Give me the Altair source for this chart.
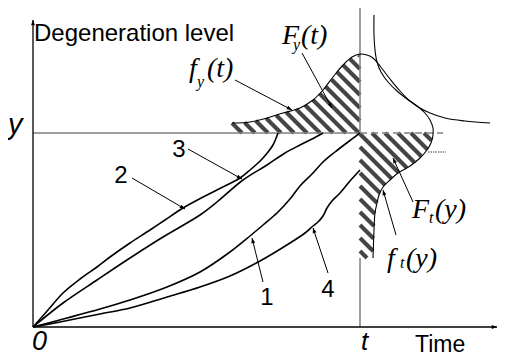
import numpy as np
import pandas as pd
import altair as alt

# Diagram units: time to the right of the origin, degeneration level above it
T_MARK = 327      # the time t
Y_MARK = 194      # the level y

curve1_time = [0, 34, 67, 97, 134, 167, 197, 217, 230, 244, 257, 267, 279, 290, 302, 315, 327]
curve1_level = [0, 9, 18, 27, 40, 55, 75, 91, 102, 114, 128, 141, 153, 165, 175, 185, 194]
curve2_time = [0, 15, 30, 47, 64, 77, 97, 117, 132, 150, 172, 192, 207, 217, 225, 230, 235, 240, 245]
curve2_level = [0, 17, 34, 48, 60, 70, 84, 97, 107, 119, 131, 141, 149, 157, 164, 169, 175, 182, 194]
curve3_time = [0, 30, 64, 97, 130, 167, 184, 210, 234, 252, 267, 279, 290]
curve3_level = [0, 24, 47, 69, 90, 112, 125, 147, 162, 174, 182, 188, 194]
curve4_time = [0, 27, 67, 97, 134, 167, 197, 227, 257, 272, 280, 285, 290, 294, 299, 307, 317, 327]
curve4_level = [0, 5, 13, 19, 30, 40, 51, 66, 84, 94, 101, 105, 111, 119, 126, 134, 146, 157]

# density of failure time at level y
fy_time = [199, 217, 234, 250, 267, 280, 290, 300, 310, 319, 327, 334, 340, 347, 357, 367, 377, 387, 397, 412, 432, 457]
fy_level = [204, 205, 209, 214, 219, 227, 237, 250, 262, 270, 273, 272, 269, 261, 248, 236, 226, 219, 214, 209, 206, 204]
# density of level at time t
ft_time = [341, 341, 342, 344, 348, 355, 364, 374, 384, 392, 397, 400, 400, 398, 394, 387, 377, 365, 357, 350, 346, 344, 342, 341, 340]
ft_level = [312, 292, 277, 265, 255, 245, 236, 228, 221, 214, 207, 199, 192, 184, 177, 169, 161, 154, 147, 140, 132, 124, 114, 97, 69]

# pointer arrows: f_y(t), F_y(t), 3, 2, 1, 4, F_t(y), f_t(y)
ptr_start_time = [202, 269, 155, 99, 230, 295, 380, 363]
ptr_start_level = [247, 274, 178, 149, 45, 54, 125, 92]
ptr_end_time = [259, 299, 209, 152, 219, 280, 360, 350]
ptr_end_level = [217, 219, 148, 118, 89, 99, 169, 137]

curve_labels = ["1", "2", "3", "4"]
curve_label_time = [234, 88, 146, 295]
curve_label_level = [22, 144, 170, 30]

HATCH_C0 = 403
HATCH_STEP = 13

X_DOM = [-25, 465]
Y_DOM = [-29, 319]

xs_ = alt.Scale(domain=X_DOM, nice=False, zero=False)
ys_ = alt.Scale(domain=Y_DOM, nice=False, zero=False)


def X(f="x"):
    return alt.X(f"{f}:Q", scale=xs_, axis=None)


def Y(f="y"):
    return alt.Y(f"{f}:Q", scale=ys_, axis=None)


# ---- hatch segments derived from the density curves ----
ft_lv_sorted = np.array(ft_level[::-1], dtype=float)
ft_t_sorted = np.array(ft_time[::-1], dtype=float)


def inside_upper(xs, ys):
    top = np.interp(xs, fy_time, fy_level)
    return (xs >= fy_time[0]) & (xs <= T_MARK) & (ys >= Y_MARK) & (ys <= top)


def inside_right(xs, ys):
    right = np.interp(ys, ft_lv_sorted, ft_t_sorted)
    return (ys >= ft_level[-1]) & (ys <= Y_MARK) & (xs >= T_MARK) & (xs <= right)


def hatch(inside_fn, xlo, xhi):
    rows = []
    xs = np.arange(xlo, xhi + 0.001, 0.25)
    for c in np.arange(HATCH_C0 - HATCH_STEP * 30, HATCH_C0 + HATCH_STEP * 30, HATCH_STEP):
        ys = c - xs
        ins = inside_fn(xs, ys)
        if not ins.any():
            continue
        idx = np.flatnonzero(ins)
        br = np.flatnonzero(np.diff(idx) > 1)
        starts = np.r_[idx[0], idx[br + 1]]
        ends = np.r_[idx[br], idx[-1]]
        for s, e in zip(starts, ends):
            if e > s:
                rows.append(dict(x=xs[s], y=ys[s], x2=xs[e], y2=ys[e]))
    return rows


hatch_df = pd.DataFrame(hatch(inside_upper, fy_time[0], T_MARK) +
                        hatch(inside_right, T_MARK, max(ft_time)))

hatch_layer = alt.Chart(hatch_df).mark_rule(color="#454545", strokeWidth=4, strokeCap="butt").encode(
    x=X(), y=Y(), x2="x2:Q", y2="y2:Q")

# ---- guide lines ----
gray_df = pd.DataFrame([
    dict(x=0, y=Y_MARK, x2=T_MARK, y2=Y_MARK),
    dict(x=T_MARK, y=Y_DOM[1], x2=T_MARK, y2=Y_MARK),
    dict(x=T_MARK, y=ft_level[-1], x2=T_MARK, y2=0),
])
gray_layer = alt.Chart(gray_df).mark_rule(color="#808080", strokeWidth=1.5).encode(
    x=X(), y=Y(), x2="x2:Q", y2="y2:Q")

dash_df = pd.DataFrame([dict(x=T_MARK, y=Y_MARK, x2=410, y2=Y_MARK)])
dash_layer = alt.Chart(dash_df).mark_rule(color="#808080", strokeWidth=1.5, strokeDash=[7, 4]).encode(
    x=X(), y=Y(), x2="x2:Q", y2="y2:Q")
dot_df = pd.DataFrame([dict(x=395, y=175, x2=413, y2=175)])
dot_layer = alt.Chart(dot_df).mark_rule(color="#808080", strokeWidth=1.5, strokeDash=[1.5, 1]).encode(
    x=X(), y=Y(), x2="x2:Q", y2="y2:Q")

# ---- curves ----
rows = []
for name, tt, ll in [("1", curve1_time, curve1_level), ("2", curve2_time, curve2_level),
                     ("3", curve3_time, curve3_level), ("4", curve4_time, curve4_level)]:
    for i, (a, b) in enumerate(zip(tt, ll)):
        rows.append(dict(curve=name, i=i, x=a, y=b))
curves_df = pd.DataFrame(rows)
curves_layer = alt.Chart(curves_df).mark_line(color="black", strokeWidth=1.6, interpolate="catmull-rom").encode(
    x=X(), y=Y(), detail="curve:N", order="i:Q")

rows = []
for name, tt, ll in [("fy", fy_time, fy_level), ("ft", ft_time, ft_level)]:
    for i, (a, b) in enumerate(zip(tt, ll)):
        rows.append(dict(curve=name, i=i, x=a, y=b))
dens_df = pd.DataFrame(rows)
dens_layer = alt.Chart(dens_df).mark_line(color="black", strokeWidth=1.1, interpolate="catmull-rom").encode(
    x=X(), y=Y(), detail="curve:N", order="i:Q")

# ---- axes ----
axis_df = pd.DataFrame([
    dict(x=0, y=0, x2=0, y2=307),
    dict(x=0, y=0, x2=464, y2=0),
])
axis_layer = alt.Chart(axis_df).mark_rule(color="black", strokeWidth=1.3).encode(
    x=X(), y=Y(), x2="x2:Q", y2="y2:Q")

# ---- pointers ----
ptr_df = pd.DataFrame(dict(x=ptr_start_time, y=ptr_start_level, x2=ptr_end_time, y2=ptr_end_level))
ptr_layer = alt.Chart(ptr_df).mark_rule(color="black", strokeWidth=1).encode(
    x=X(), y=Y(), x2="x2:Q", y2="y2:Q")

heads = []
for a, b, c, d in zip(ptr_start_time, ptr_start_level, ptr_end_time, ptr_end_level):
    heads.append(dict(x=c, y=d, ang=float(np.degrees(np.arctan2(c - a, d - b)) % 360), s=110))
for r in axis_df.itertuples():
    heads.append(dict(x=r.x2, y=r.y2, ang=float(np.degrees(np.arctan2(r.x2 - r.x, r.y2 - r.y)) % 360), s=110))
heads_df = pd.DataFrame(heads)
ARROW = "M0,0 L-0.38,1 L0.38,1 Z"
heads_layer = alt.Chart(heads_df).mark_point(shape=ARROW, filled=True, color="black", opacity=1, strokeWidth=0).encode(
    x=X(), y=Y(), angle=alt.Angle("ang:Q", scale=None), size=alt.Size("s:Q", scale=None))

# ---- texts ----
sans_df = pd.DataFrame(dict(x=[1, 382], y=[286, -25], t=["Degeneration level", "Time"], fs=[24, 23]))
sans_layer = alt.Chart(sans_df).mark_text(font="Liberation Sans", align="left",
                                          baseline="alphabetic", color="black").encode(
    x=X(), y=Y(), text="t:N", size=alt.Size("fs:Q", scale=None))

num_df = pd.DataFrame(dict(x=curve_label_time, y=curve_label_level, t=curve_labels))
num_layer = alt.Chart(num_df).mark_text(font="Liberation Sans", fontSize=24, align="center",
                                        baseline="alphabetic", color="black").encode(
    x=X(), y=Y(), text="t:N")

ital_df = pd.DataFrame(dict(x=[-25, -1, 328], y=[193, -23, -23], t=["y", "0", "t"], fs=[29, 27, 26]))
ital_layer = alt.Chart(ital_df).mark_text(font="Liberation Sans", fontStyle="italic", align="left",
                                          baseline="alphabetic", color="black").encode(
    x=X(), y=Y(), text="t:N", size=alt.Size("fs:Q", scale=None))

math_df = pd.DataFrame(dict(
    x=[249, 268, 156, 174, 379, 402, 354, 373],
    y=[283, 283, 250, 250, 109, 109, 60, 60],
    t=["F", "(t)", "f", "(t)", "F", "(y)", "f", "(y)"]))
math_layer = alt.Chart(math_df).mark_text(font="Liberation Serif", fontStyle="italic", fontSize=28,
                                          align="left", baseline="alphabetic", color="black").encode(
    x=X(), y=Y(), text="t:N")

sub_df = pd.DataFrame(dict(x=[260, 164, 396, 367], y=[277, 240, 104, 59], t=["y", "y", "t", "t"]))
sub_layer = alt.Chart(sub_df).mark_text(font="Liberation Serif", fontStyle="italic", fontSize=16,
                                        align="left", baseline="alphabetic", color="black").encode(
    x=X(), y=Y(), text="t:N")

chart = alt.layer(
    hatch_layer, gray_layer, dash_layer, dot_layer, curves_layer, dens_layer, axis_layer,
    ptr_layer, heads_layer, sans_layer, num_layer, ital_layer, math_layer, sub_layer
).properties(width=490, height=348, padding=0, autosize="none", background="white"
).configure_view(stroke=None)

chart.save("out.html", embed_options={"renderer": "svg", "actions": False})
